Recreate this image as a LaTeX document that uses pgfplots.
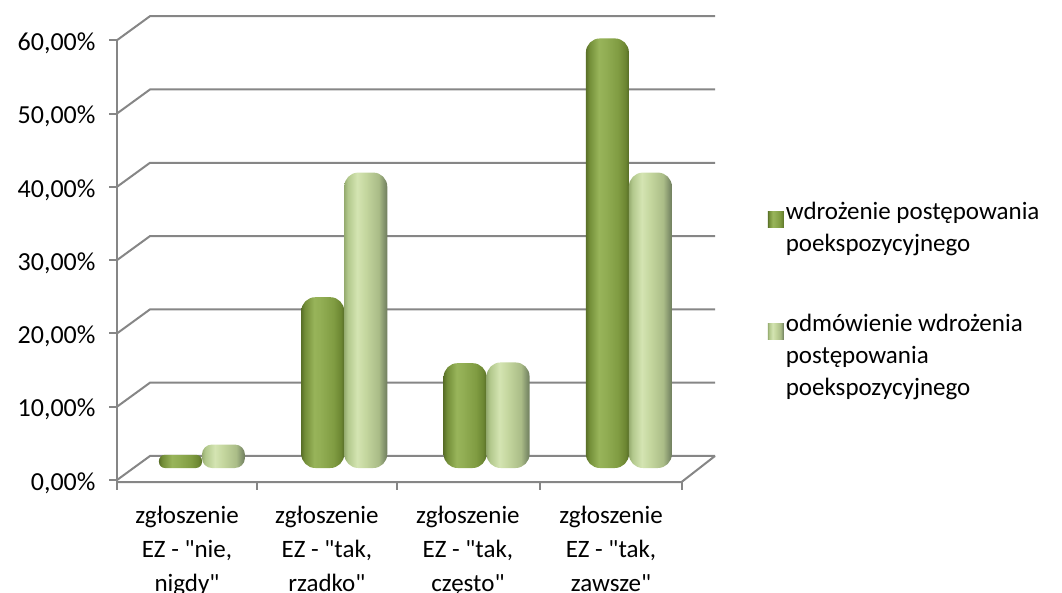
\documentclass[border=0pt]{standalone}
\usepackage{pgfplots}
\pgfplotsset{compat=1.18}
\usepackage{fontspec}
\setmainfont{Carlito}
\definecolor{gridgray}{RGB}{134,134,134}
\definecolor{dA}{RGB}{90,112,40}
\definecolor{dB}{RGB}{115,142,56}
\definecolor{dC}{RGB}{152,180,90}
\definecolor{dD}{RGB}{146,174,84}
\definecolor{dE}{RGB}{128,156,66}
\definecolor{dF}{RGB}{108,134,50}
\definecolor{dG}{RGB}{86,108,38}
\definecolor{lA}{RGB}{150,172,112}
\definecolor{lB}{RGB}{178,200,140}
\definecolor{lC}{RGB}{212,228,178}
\definecolor{lD}{RGB}{196,214,158}
\definecolor{lE}{RGB}{170,188,135}
\definecolor{lF}{RGB}{130,146,108}
\definecolor{lG}{RGB}{112,126,94}
\pgfdeclarehorizontalshading{darkbar}{100bp}{color(0bp)=(dA); color(25bp)=(dA); color(29bp)=(dB); color(40bp)=(dC); color(47.5bp)=(dD); color(62.5bp)=(dE); color(71bp)=(dF); color(75bp)=(dG); color(100bp)=(dG)}
\pgfdeclarehorizontalshading{lightbar}{100bp}{color(0bp)=(lA); color(25bp)=(lA); color(29bp)=(lB); color(40bp)=(lC); color(50bp)=(lD); color(65bp)=(lE); color(71.5bp)=(lF); color(75bp)=(lG); color(100bp)=(lG)}
\begin{document}
\begin{tikzpicture}[font=\fontsize{25}{33}\selectfont]
\useasboundingbox (0,0) rectangle (1062pt,592pt);
\begin{axis}[
  at={(117pt,110pt)}, anchor=south west,
  scale only axis, width=598pt, height=472pt,
  xmin=-0.597, xmax=3.605, ymin=-1.91, ymax=62.48,
  clip=false,
  axis line style={draw=none},
  major tick length=0pt,
  ybar, bar width=43pt,
  every axis plot post/.append style={bar shift=0pt,
    legend image code/.code={\fill[##1, sharp corners] (-1pt,-28pt) rectangle (15pt,-12pt);}},
  xtick={-0.105,0.878,1.869,2.874},
  xticklabels={{zgłoszenie\\EZ - \textquotedbl nie,\\nigdy\textquotedbl},{zgłoszenie\\EZ - \textquotedbl tak,\\rzadko\textquotedbl},{zgłoszenie\\EZ - \textquotedbl tak,\\często\textquotedbl},{zgłoszenie\\EZ - \textquotedbl tak,\\zawsze\textquotedbl}},
  xticklabel style={align=center, yshift=-21pt, font=\fontsize{25}{34}\selectfont},
  ytick={-1.64,8.36,18.36,28.36,38.36,48.36,58.36},
  yticklabels={{0,00\%},{10,00\%},{20,00\%},{30,00\%},{40,00\%},{50,00\%},{60,00\%}},
  yticklabel style={anchor=east, xshift=-18pt, yshift=-3pt, font=\fontsize{26}{33}\selectfont},
  legend cell align=left,
  legend style={at={(1.083,0.603)}, anchor=north west, draw=none, fill=none,
    row sep=57pt, cells={anchor=north west, align=left},
    font=\fontsize{25}{32}\selectfont},
]
% back wall grid with perspective offsets
\draw[gridgray, line width=2pt] (axis cs:-0.597,-1.64) -- (axis cs:-0.365,1.64) -- (axis cs:3.605,1.64);
\draw[gridgray, line width=2pt] (axis cs:-0.597,8.36) -- (axis cs:-0.365,11.64) -- (axis cs:3.605,11.64);
\draw[gridgray, line width=2pt] (axis cs:-0.597,18.36) -- (axis cs:-0.365,21.64) -- (axis cs:3.605,21.64);
\draw[gridgray, line width=2pt] (axis cs:-0.597,28.36) -- (axis cs:-0.365,31.64) -- (axis cs:3.605,31.64);
\draw[gridgray, line width=2pt] (axis cs:-0.597,38.36) -- (axis cs:-0.365,41.64) -- (axis cs:3.605,41.64);
\draw[gridgray, line width=2pt] (axis cs:-0.597,48.36) -- (axis cs:-0.365,51.64) -- (axis cs:3.605,51.64);
\draw[gridgray, line width=2pt] (axis cs:-0.597,58.36) -- (axis cs:-0.365,61.64) -- (axis cs:3.605,61.64);
% vertical axis and floor
\draw[gridgray, line width=2pt] (axis cs:-0.597,-1.91) -- (axis cs:-0.597,58.36);
\draw[gridgray, line width=2pt] (axis cs:-0.597,-1.91) -- (axis cs:3.37,-1.91) -- (axis cs:3.605,1.64);
% y tick marks
\pgfplotsinvokeforeach{-1.64,8.36,18.36,28.36,38.36,48.36,58.36}{
  \draw[gridgray, line width=2pt] (axis cs:-0.597,#1) -- ++(-8pt,0pt);
}
% x tick marks
\pgfplotsinvokeforeach{-0.597,0.387,1.37,2.375,3.37}{
  \draw[gridgray, line width=2pt] (axis cs:#1,-1.91) -- ++(0pt,-8pt);
}
% series 1: wdrozenie postepowania poekspozycyjnego
\addplot[draw=none, shade, shading=darkbar, rounded corners=6pt] coordinates {(-0.151,1.8)};
\addplot[draw=none, shade, shading=darkbar, rounded corners=14pt, forget plot] coordinates {(0.849,23.3)};
\addplot[draw=none, shade, shading=darkbar, rounded corners=14pt, forget plot] coordinates {(1.849,14.3)};
\addplot[draw=none, shade, shading=darkbar, rounded corners=14pt, forget plot] coordinates {(2.849,58.6)};
% series 2: odmowienie wdrozenia postepowania poekspozycyjnego
\addplot[draw=none, shade, shading=lightbar, rounded corners=10pt] coordinates {(0.151,3.2)};
\addplot[draw=none, shade, shading=lightbar, rounded corners=14pt, forget plot] coordinates {(1.151,40.3)};
\addplot[draw=none, shade, shading=lightbar, rounded corners=14pt, forget plot] coordinates {(2.151,14.4)};
\addplot[draw=none, shade, shading=lightbar, rounded corners=14pt, forget plot] coordinates {(3.151,40.3)};
\legend{{wdrożenie postępowania\\poekspozycyjnego},{odmówienie wdrożenia\\postępowania\\poekspozycyjnego}}
\end{axis}
\end{tikzpicture}
\end{document}
